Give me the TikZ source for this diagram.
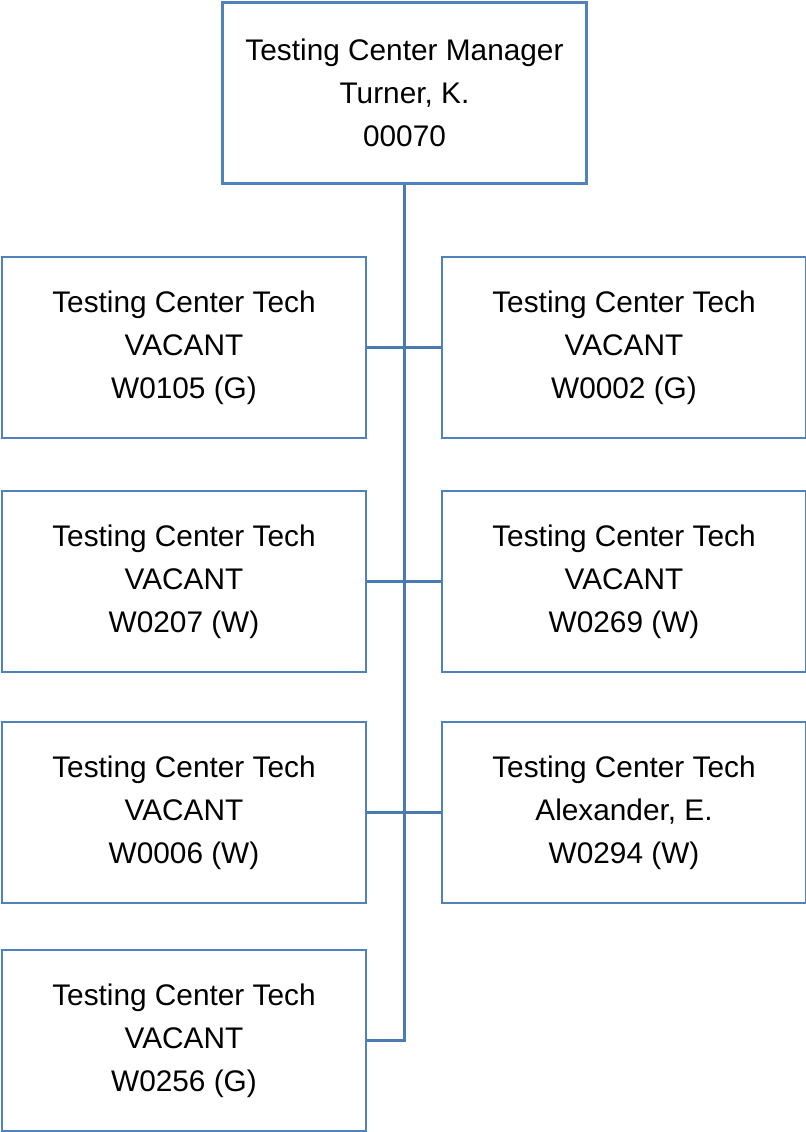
\documentclass[tikz,border=0pt]{standalone}
\usepackage{fontspec}
\setmainfont{Liberation Sans}
\definecolor{boxblue}{HTML}{4F81BD}
\definecolor{lineblue}{HTML}{4A7AB0}
\tikzset{
	posbox/.style={draw=boxblue, line width=2.2bp, minimum width=364bp, minimum height=181bp,
		inner sep=0pt, align=center, font=\fontsize{29.8bp}{43bp}\selectfont},
	link/.style={draw=lineblue, line width=2.2bp}
}

\begin{document}
\begin{tikzpicture}[x=1bp, y=-1bp]
\useasboundingbox (0,0) rectangle (806,1132);

% manager
\node[posbox] (mgr) at (404.5,93) {Testing Center Manager\\Turner, K.\\00070};

% techs, left and right
\node[posbox] (t1) at (184,347.5) {Testing Center Tech\\VACANT\\W0105 (G)};
\node[posbox] (t2) at (624,347.5) {Testing Center Tech\\VACANT\\W0002 (G)};
\node[posbox] (t3) at (184,581.5) {Testing Center Tech\\VACANT\\W0207 (W)};
\node[posbox] (t4) at (624,581.5) {Testing Center Tech\\VACANT\\W0269 (W)};
\node[posbox] (t5) at (184,812.5) {Testing Center Tech\\VACANT\\W0006 (W)};
\node[posbox] (t6) at (624,812.5) {Testing Center Tech\\Alexander, E.\\W0294 (W)};
\node[posbox] (t7) at (184,1040.5) {Testing Center Tech\\VACANT\\W0256 (G)};

\draw[link] (mgr.south) |- (t7.east);
\draw[link] (t1.east) -- (t2.west);
\draw[link] (t3.east) -- (t4.west);
\draw[link] (t5.east) -- (t6.west);
\end{tikzpicture}
\end{document}
